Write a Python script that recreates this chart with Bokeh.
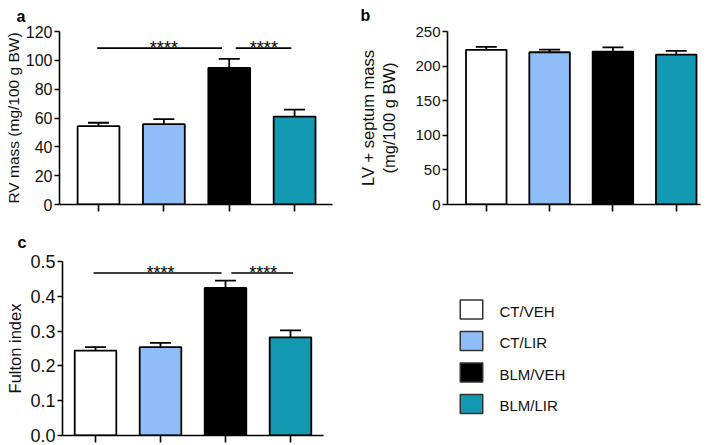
from bokeh.plotting import figure
from bokeh.models import (FixedTicker, PrintfTickFormatter, Whisker, TeeHead,
                          ColumnDataSource, Range1d)
from bokeh.layouts import column, row
from bokeh.embed import file_html
from bokeh.resources import INLINE
from bokeh.core.properties import value

# ---------------- data ----------------
groups = ["CT/VEH", "CT/LIR", "BLM/VEH", "BLM/LIR"]
colors = ["#ffffff", "#8fbdf7", "#000000", "#1399b2"]
xpos = [1, 2, 3, 4]

rv_mass = [54.3, 55.7, 94.7, 61.0]
rv_err = [2.4, 3.5, 6.3, 4.8]

lv_mass = [223.5, 220.0, 221.0, 216.5]
lv_err = [4.3, 3.7, 6.0, 5.5]

fulton = [0.244, 0.254, 0.424, 0.282]
fulton_err = [0.010, 0.012, 0.021, 0.020]

rv_ticks = [0, 20, 40, 60, 80, 100, 120]
lv_ticks = [0, 50, 100, 150, 200, 250]
fulton_ticks = [0.0, 0.1, 0.2, 0.3, 0.4, 0.5]

sig_text = ["****", "****"]
rv_sig_x0 = [0.98, 3.10]
rv_sig_x1 = [2.89, 3.95]
rv_sig_y = [108.5, 108.5]
rv_star_x = [2.0, 3.53]

fu_sig_x0 = [0.97, 3.09]
fu_sig_x1 = [2.94, 4.04]
fu_sig_y = [0.467, 0.467]
fu_star_x = [2.0, 3.58]

FONT = "Liberation Sans"


def bar_panel(width, height, b_left, b_right, b_top, b_bottom, x_range, y_end,
              ticks, vals, errs, ylabel, ylabel_size, tick_size, label_standoff,
              letter, letter_offset, letter_standoff, fmt=None):
    p = figure(width=width, height=height, x_range=Range1d(*x_range),
               y_range=Range1d(0, y_end), output_backend="svg",
               toolbar_location=None, min_border_left=b_left,
               min_border_right=b_right, min_border_top=b_top,
               min_border_bottom=b_bottom)
    p.xgrid.visible = False
    p.ygrid.visible = False
    p.outline_line_color = None
    p.background_fill_color = None
    p.border_fill_color = "white"

    p.title.text = letter
    p.title.align = "left"
    p.title.offset = letter_offset
    p.title.standoff = letter_standoff
    p.title.vertical_align = "top"
    p.title.text_font = FONT
    p.title.text_font_size = "16px"
    p.title.text_font_style = "bold"
    p.title.text_color = "black"

    src = ColumnDataSource(dict(x=xpos, top=vals,
                                upper=[v + e for v, e in zip(vals, errs)],
                                color=colors))
    p.vbar(x="x", top="top", width=0.64, fill_color="color", line_color="black",
           line_width=1.8, source=src)
    w = Whisker(base="x", lower="top", upper="upper", source=src,
                upper_head=TeeHead(size=21, line_width=1.8, line_color="black"),
                lower_head=None, line_width=1.8, line_color="black")
    p.add_layout(w)

    xa = p.xaxis[0]
    xa.ticker = FixedTicker(ticks=xpos)
    xa.major_label_overrides = {x: "" for x in xpos}
    xa.major_label_standoff = 0
    xa.major_label_text_font_size = "1px"
    xa.major_tick_out = 7
    xa.major_tick_in = 0
    xa.minor_tick_out = 0
    xa.minor_tick_in = 0
    xa.axis_line_width = 1.6
    xa.major_tick_line_width = 1.6

    ya = p.yaxis[0]
    ya.ticker = FixedTicker(ticks=ticks)
    if fmt:
        ya.formatter = PrintfTickFormatter(format=fmt)
    ya.major_tick_out = 5
    ya.major_tick_in = 0
    ya.minor_tick_line_color = None
    ya.axis_line_width = 1.6
    ya.major_tick_line_width = 1.6
    ya.major_label_standoff = 2
    ya.major_label_text_font = FONT
    ya.major_label_text_font_size = tick_size
    ya.major_label_text_color = "#111111"
    ya.axis_label = ylabel
    ya.axis_label_text_font = FONT
    ya.axis_label_text_font_style = "normal"
    ya.axis_label_text_font_size = ylabel_size
    ya.axis_label_text_color = "#111111"
    ya.axis_label_standoff = label_standoff
    return p


def add_sig(p, x0, x1, y, sx):
    src = ColumnDataSource(dict(x0=x0, x1=x1, y=y, sx=sx, t=sig_text))
    p.segment(x0="x0", x1="x1", y0="y", y1="y", line_color="black",
              line_width=1.6, source=src)
    p.text(x="sx", y="y", text="t", source=src, text_align="center",
           text_baseline="alphabetic", text_font=value(FONT),
           text_font_size="18px", text_color="black")


# ---------------- panel a ----------------
pa = bar_panel(355, 222, 59, 23, 31, 18, (0.403, 4.58), 120, rv_ticks,
               rv_mass, rv_err, "RV mass (mg/100 g BW)", "15.5px", "16px", 1,
               "a", -43, 10)
add_sig(pa, rv_sig_x0, rv_sig_x1, rv_sig_y, rv_star_x)

# ---------------- panel b ----------------
pb = bar_panel(350, 222, 84, 5, 31, 15, (0.388, 4.383), 250, lv_ticks,
               lv_mass, lv_err, "LV + septum mass\n(mg/100 g BW)", "16.5px",
               "15px", 14, "b", -87, 12)

# ---------------- panel c ----------------
pc = bar_panel(355, 223, 62, 32, 39, 10, (0.492, 4.508), 0.5, fulton_ticks,
               fulton, fulton_err, "Fulton index", "16.5px", "18px", 3,
               "c", -45, 18, fmt="%.1f")
add_sig(pc, fu_sig_x0, fu_sig_x1, fu_sig_y, fu_star_x)

# ---------------- legend ----------------
# same borders as panel c so the two frames line up; y range = canvas pixels
pl = figure(width=350, height=223, x_range=Range1d(0, 350),
            y_range=Range1d(213, 39), output_backend="svg",
            toolbar_location=None, min_border_left=0, min_border_right=0,
            min_border_top=39, min_border_bottom=10)
pl.xaxis.visible = False
pl.yaxis.visible = False
pl.xgrid.visible = False
pl.ygrid.visible = False
pl.outline_line_color = None
leg_y = [87 + 31.5 * i for i in range(len(groups))]
leg_src = ColumnDataSource(dict(y=leg_y, ty=[v + 1.5 for v in leg_y],
                                color=colors, label=groups))
pl.rect(x=116, y="y", width=22.5, height=19, fill_color="color",
        line_color="#333333", line_width=1.5, source=leg_src)
pl.text(x=144, y="ty", text="label", source=leg_src, text_baseline="middle",
        text_font=value(FONT), text_font_size="15px", text_color="#111111")

layout = column(row(pa, pb), row(pc, pl))
open("out.html", "w").write(file_html(layout, INLINE))
